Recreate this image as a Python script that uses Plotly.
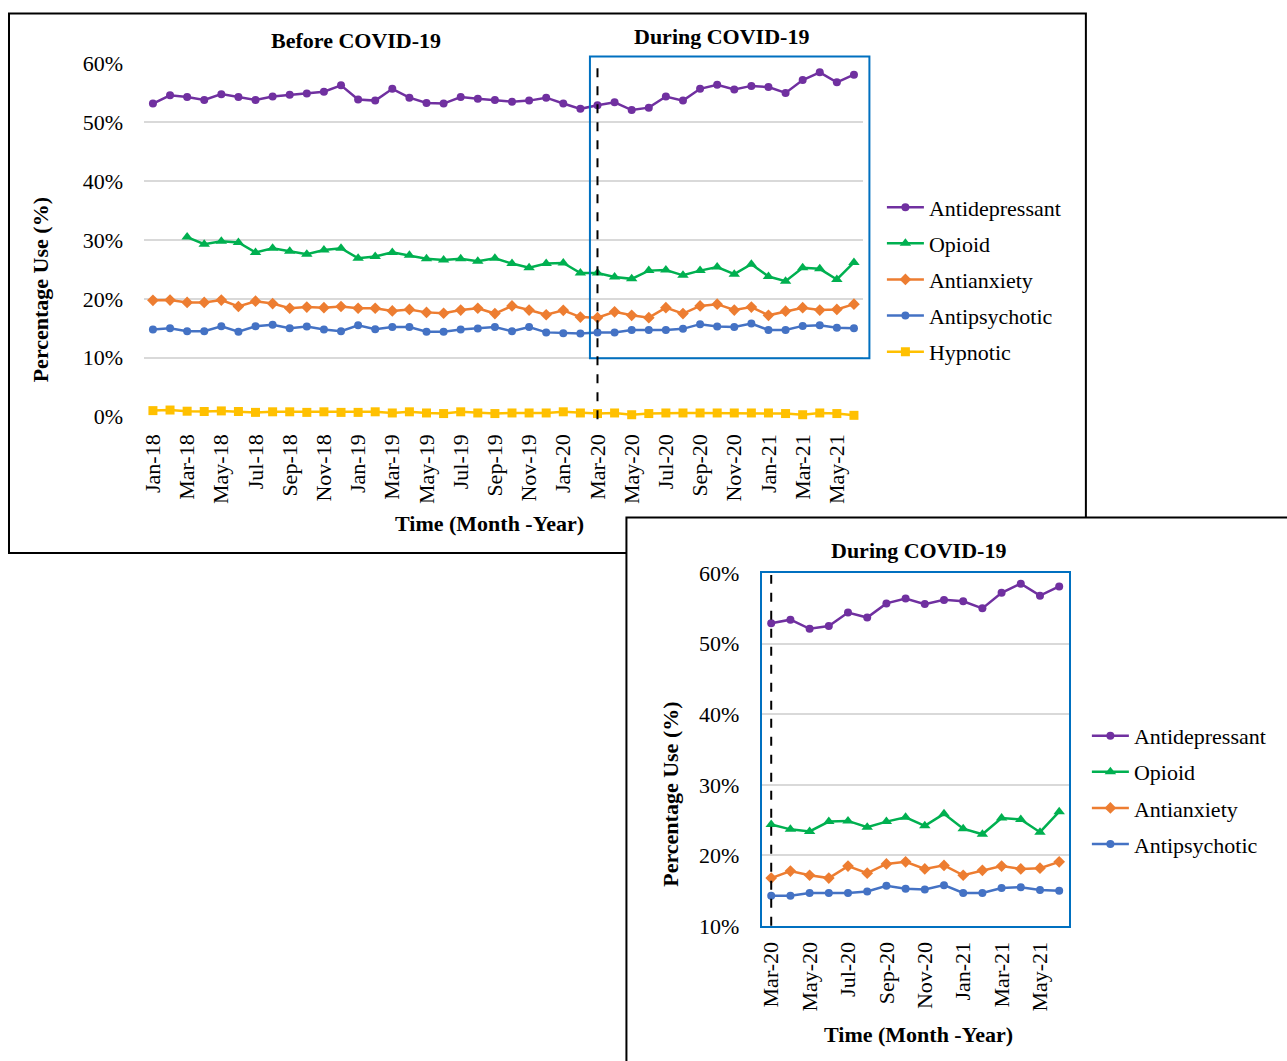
import plotly.graph_objects as go

months = ["Jan-18","Feb-18","Mar-18","Apr-18","May-18","Jun-18","Jul-18","Aug-18","Sep-18","Oct-18","Nov-18","Dec-18",
          "Jan-19","Feb-19","Mar-19","Apr-19","May-19","Jun-19","Jul-19","Aug-19","Sep-19","Oct-19","Nov-19","Dec-19",
          "Jan-20","Feb-20","Mar-20","Apr-20","May-20","Jun-20","Jul-20","Aug-20","Sep-20","Oct-20","Nov-20","Dec-20",
          "Jan-21","Feb-21","Mar-21","Apr-21","May-21","Jun-21"]

antidepressant = [53.2,54.6,54.3,53.8,54.8,54.3,53.8,54.4,54.7,54.9,55.2,56.3,
                  53.9,53.7,55.7,54.2,53.3,53.2,54.3,54.0,53.8,53.5,53.7,54.2,
                  53.2,52.3,52.9,53.4,52.1,52.5,54.4,53.7,55.7,56.4,55.6,56.2,
                  56.0,55.0,57.2,58.5,56.8,58.1]
opioid = [None,None,30.5,29.3,29.8,29.6,27.9,28.6,28.1,27.6,28.3,28.6,
          26.9,27.2,27.9,27.4,26.8,26.6,26.8,26.4,26.9,26.0,25.3,26.0,
          26.1,24.4,24.4,23.7,23.4,24.8,24.9,24.0,24.8,25.4,24.2,25.9,
          23.8,23.0,25.3,25.1,23.3,26.2]
antianxiety = [19.75,19.8,19.4,19.4,19.8,18.7,19.6,19.2,18.4,18.6,18.5,18.7,
               18.4,18.4,17.95,18.2,17.7,17.55,18.1,18.4,17.5,18.8,18.1,17.3,
               18.05,16.9,16.8,17.8,17.2,16.8,18.5,17.5,18.8,19.1,18.1,18.6,
               17.2,17.9,18.5,18.1,18.2,19.1]
antipsychotic = [14.8,15.0,14.5,14.5,15.35,14.4,15.35,15.6,15.0,15.3,14.8,14.5,
                 15.5,14.85,15.2,15.2,14.4,14.4,14.8,14.95,15.2,14.5,15.2,14.3,
                 14.15,14.1,14.3,14.3,14.7,14.7,14.7,14.9,15.7,15.3,15.2,15.8,
                 14.7,14.7,15.4,15.5,15.1,15.0]
hypnotic = [1.0,1.1,0.9,0.85,0.95,0.85,0.7,0.8,0.8,0.7,0.8,0.7,
            0.7,0.8,0.6,0.8,0.6,0.5,0.8,0.6,0.5,0.6,0.6,0.6,
            0.8,0.6,0.5,0.6,0.3,0.5,0.6,0.6,0.6,0.6,0.6,0.6,
            0.6,0.5,0.3,0.6,0.5,0.2]

main_ticks = months[::2]
covid_start = "Mar-20"
ci = months.index(covid_start)
inset_months = months[ci:]
inset_ticks = inset_months[::2]

series = [
    ("Antidepressant", antidepressant, "#7030A0", "circle", 8),
    ("Opioid", opioid, "#00B050", "triangle-up", 10),
    ("Antianxiety", antianxiety, "#ED7D31", "diamond", 9),
    ("Antipsychotic", antipsychotic, "#4472C4", "circle", 8),
    ("Hypnotic", hypnotic, "#FFC000", "square", 9),
]

W, H = 1287, 1061
# map target picture pixels to page pixels (compensates the capture offset/scale)
def RX(x): return (x - 2.0) / 0.997
def RY(y): return (y - 12.4) / 0.9774
def px(x): return RX(x) / W
def py(y): return 1 - RY(y) / H

FONT = "Liberation Serif"
fig = go.Figure()

for name, vals, col, sym, sz in series:
    fig.add_trace(go.Scatter(x=months, y=vals, name=name, mode="lines+markers",
                             line=dict(color=col, width=2.5),
                             marker=dict(symbol=sym, size=sz, color=col),
                             legendgroup=name, legend="legend", cliponaxis=False,
                             xaxis="x", yaxis="y"))
for name, vals, col, sym, sz in series[:4]:
    fig.add_trace(go.Scatter(x=inset_months, y=vals[ci:], name=name, mode="lines+markers",
                             line=dict(color=col, width=2.5),
                             marker=dict(symbol=sym, size=sz, color=col),
                             legendgroup=name + "2", legend="legend2", cliponaxis=False,
                             xaxis="x2", yaxis="y2"))

tickfont = dict(family=FONT, size=22, color="#000")
grid = "#D9D9D9"

fig.update_layout(
    width=W, height=H, margin=dict(l=0, r=0, t=0, b=0),
    paper_bgcolor="white", plot_bgcolor="rgba(0,0,0,0)",
    font=dict(family=FONT, size=22, color="#000"),
    xaxis=dict(domain=[px(142.4), px(860.6)], anchor="y", type="category",
               categoryorder="array", categoryarray=months,
               range=[-0.5, len(months) - 0.5],
               tickvals=main_ticks, ticktext=main_ticks, tickangle=-90,
               tickfont=tickfont, showgrid=False, zeroline=False, showline=False,
               ticks="outside", ticklen=8, tickcolor="rgba(0,0,0,0)"),
    yaxis=dict(domain=[py(417.3), py(64)], anchor="x", range=[0, 60], dtick=10,
               ticksuffix="%", tickfont=tickfont, showgrid=True, gridcolor=grid,
               gridwidth=1.5, zeroline=False, showline=False,
               ticks="outside", ticklen=16, tickcolor="rgba(0,0,0,0)"),
    xaxis2=dict(domain=[px(759.7), px(1066.9)], anchor="y2", type="category",
                categoryorder="array", categoryarray=inset_months,
                range=[-0.5, len(inset_months) - 0.5],
                tickvals=inset_ticks, ticktext=inset_ticks, tickangle=-90,
                tickfont=tickfont, showgrid=False, zeroline=False,
                showline=True, mirror=True, linecolor="#0070C0", linewidth=2,
                ticks="outside", ticklen=5, tickcolor="rgba(0,0,0,0)"),
    yaxis2=dict(domain=[py(927.4), py(574)], anchor="x2", range=[10, 60], dtick=10,
                ticksuffix="%", tickfont=tickfont, showgrid=True, gridcolor=grid,
                gridwidth=1.5, zeroline=False,
                showline=True, mirror=True, linecolor="#0070C0", linewidth=2,
                ticks="outside", ticklen=16, tickcolor="rgba(0,0,0,0)"),
    legend=dict(x=px(880), y=py(187), xanchor="left", yanchor="top",
                font=dict(family=FONT, size=22), bgcolor="rgba(0,0,0,0)",
                tracegroupgap=4.5, traceorder="grouped", itemsizing="trace",
                itemwidth=37),
    legend2=dict(x=px(1085), y=py(716), xanchor="left", yanchor="top",
                 font=dict(family=FONT, size=22), bgcolor="rgba(0,0,0,0)",
                 tracegroupgap=4.5, traceorder="grouped", itemsizing="trace",
                 itemwidth=37),
    showlegend=True,
)

shapes = [
    dict(type="rect", xref="paper", yref="paper", x0=px(7), x1=px(1084), y0=py(554), y1=1 - 1.5 / H,
         line=dict(color="black", width=2), fillcolor="rgba(0,0,0,0)", layer="below"),
    dict(type="rect", xref="paper", yref="paper", x0=px(624.5), x1=px(1300), y0=py(1080), y1=py(518.5),
         line=dict(color="black", width=2), fillcolor="white", layer="below"),
    dict(type="rect", xref="paper", yref="paper", x0=px(588), x1=px(867.5), y0=py(359), y1=py(57),
         line=dict(color="#0070C0", width=2), fillcolor="rgba(0,0,0,0)", layer="above"),
    dict(type="line", xref="x", yref="paper", x0=covid_start, x1=covid_start, y0=py(420), y1=py(62),
         line=dict(color="black", width=2, dash="dash"), layer="above"),
    dict(type="line", xref="x2", yref="paper", x0=covid_start, x1=covid_start, y0=py(927), y1=py(576),
         line=dict(color="black", width=2, dash="dash"), layer="above"),
]
fig.update_layout(shapes=shapes)

def ann(text, x, y, size=22, angle=0):
    fig.add_annotation(text=text, x=px(x), y=py(y), xref="paper", yref="paper",
                       showarrow=False, xanchor="center", yanchor="middle",
                       textangle=angle, font=dict(family=FONT, size=size, color="#000"))

ann("<b>Before COVID-19</b>", 354, 41)
ann("<b>During COVID-19</b>", 720, 37)
ann("<b>During COVID-19</b>", 917, 551)
ann("<b>Time (Month -Year)</b>", 488, 524)
ann("<b>Time (Month -Year)</b>", 917, 1036)
ann("<b>Percentage Use (%)</b>", 38, 290, angle=-90)
ann("<b>Percentage Use (%)</b>", 669, 795, angle=-90)

fig.write_html("out.html", config={"displayModeBar": False},
               post_script="document.body.style.margin='0';document.body.style.padding='0';"
                           "document.documentElement.style.overflow='hidden';"
                           "document.body.style.overflow='hidden';"
                           "var d=document.getElementById('{plot_id}');"
                           "d.style.position='fixed';d.style.top='0px';d.style.left='0px';")
